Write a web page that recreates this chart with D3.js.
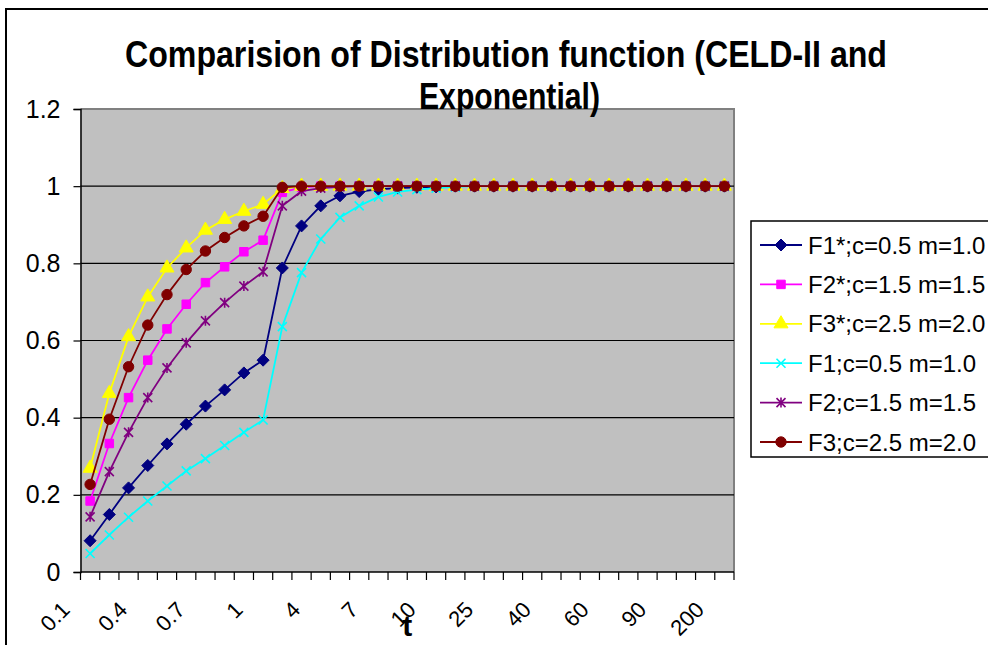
<!DOCTYPE html>
<html><head><meta charset="utf-8">
<script src="https://cdn.jsdelivr.net/npm/d3@7"></script>
<style>body{margin:0;background:#fff}svg{display:block;font-family:Arial,"Liberation Sans",sans-serif}</style>
</head><body>
<svg id="c" width="988" height="645"></svg>
<script>
const categories = ["0.1","0.2","0.3","0.4","0.5","0.6","0.7","0.8","0.9","1","2","3","4","5","6","7","8","9","10","15","20","25","30","35","40","45","50","60","70","80","90","100","150","200"];
const tickLabels = ["0.1","0.4","0.7","1","4","7","10","25","40","60","90","200"];
const yTicks = [0,0.2,0.4,0.6,0.8,1,1.2];
const seriesNames = ["F1*;c=0.5 m=1.0","F2*;c=1.5 m=1.5","F3*;c=2.5 m=2.0","F1;c=0.5 m=1.0","F2;c=1.5 m=1.5","F3;c=2.5 m=2.0"];
const F1star = [0.081,0.149,0.218,0.276,0.332,0.383,0.430,0.472,0.516,0.549,0.788,0.897,0.949,0.975,0.986,0.992,0.995,0.997,0.998,1,1,1,1,1,1,1,1,1,1,1,1,1,1,1];
const F2star = [0.184,0.333,0.452,0.549,0.630,0.694,0.750,0.791,0.830,0.860,0.984,0.997,1,1,1,1,1,1,1,1,1,1,1,1,1,1,1,1,1,1,1,1,1,1];
const F3star = [0.269,0.463,0.610,0.713,0.788,0.840,0.886,0.914,0.935,0.953,0.994,1,1,1,1,1,1,1,1,1,1,1,1,1,1,1,1,1,1,1,1,1,1,1];
const F1 = [0.048,0.096,0.142,0.184,0.223,0.262,0.294,0.328,0.362,0.394,0.636,0.776,0.863,0.919,0.949,0.972,0.985,0.991,0.995,0.998,1,1,1,1,1,1,1,1,1,1,1,1,1,1];
const F2 = [0.143,0.260,0.362,0.452,0.529,0.594,0.651,0.698,0.741,0.778,0.949,0.987,0.995,0.998,1,1,1,1,1,1,1,1,1,1,1,1,1,1,1,1,1,1,1,1];
const F3 = [0.227,0.396,0.532,0.640,0.719,0.784,0.832,0.867,0.897,0.922,0.997,1,1,1,1,1,1,1,1,1,1,1,1,1,1,1,1,1,1,1,1,1,1,1];
const seriesValues = [F1star,F2star,F3star,F1,F2,F3];
const colors = ["#000080","#FF00FF","#FFFF00","#00FFFF","#800080","#800000"];
const markers = ["diamond","square","triangle","x","star","circle"];

const svg = d3.select("#c");
const L=80.5, R=734, T=109, B=572;
const x = d3.scaleBand().domain(categories).range([L,R]);
const y = d3.scaleLinear().domain([0,1.2]).range([B,T]);

// outer chart border
svg.append("rect").attr("x",6).attr("y",9).attr("width",1100).attr("height",800)
  .attr("fill","#fff").attr("stroke","#000").attr("stroke-width",2);

// plot area
svg.append("rect").attr("x",L).attr("y",T).attr("width",R-L).attr("height",B-T).attr("fill","#C0C0C0");
svg.append("path").attr("d",`M${L},${T}H${R}V${B}`).attr("fill","none").attr("stroke","#808080").attr("stroke-width",2);

// gridlines
svg.append("g").selectAll("line").data(yTicks.filter(d=>d>0&&d<1.2)).join("line")
  .attr("x1",L).attr("x2",R).attr("y1",d=>y(d)).attr("y2",d=>y(d)).attr("stroke","#000").attr("stroke-width",1.2);

// y axis
const yAxis = svg.append("g").attr("transform",`translate(${L},0)`)
  .call(d3.axisLeft(y).tickValues(yTicks).tickSize(7).tickPadding(13).tickFormat(d=>String(d)));
yAxis.select(".domain").attr("stroke","#000").attr("stroke-width",1.5);
yAxis.selectAll(".tick line").attr("stroke","#000").attr("stroke-width",1.2);
yAxis.selectAll(".tick text").attr("font-size",25).attr("fill","#000").attr("font-family","Arial,'Liberation Sans',sans-serif");

// x axis
const xAxis = svg.append("g").attr("transform",`translate(0,${B})`)
  .call(d3.axisBottom(x).tickSize(0).tickFormat(""));
xAxis.select(".domain").remove();
xAxis.append("line").attr("x1",L).attr("x2",R).attr("stroke","#000").attr("stroke-width",1.5);
const bounds = d3.range(categories.length+1).map(i=> i<categories.length ? x(categories[i]) : x(categories[i-1])+x.bandwidth());
xAxis.selectAll(".bt").data(bounds).join("line").attr("class","bt")
  .attr("x1",d=>d).attr("x2",d=>d).attr("y1",0).attr("y2",8).attr("stroke","#000").attr("stroke-width",1.2);
xAxis.selectAll(".xl").data(tickLabels).join("text").attr("class","xl")
  .attr("transform",d=>`translate(${x(d)+x.bandwidth()/2-19},39) rotate(-45)`)
  .attr("text-anchor","end").attr("font-size",22).attr("fill","#000").text(d=>d);

// x title
svg.append("text").attr("x",(L+R)/2).attr("y",636).attr("text-anchor","middle")
  .attr("font-size",30).attr("font-weight","bold").text("t");

// title
svg.append("text").attr("x",506).attr("y",67).attr("text-anchor","middle")
  .attr("font-size",36).attr("font-weight","bold").attr("textLength",762).attr("lengthAdjust","spacingAndGlyphs")
  .text("Comparision of Distribution function (CELD-II and");
svg.append("text").attr("x",509.5).attr("y",109).attr("text-anchor","middle")
  .attr("font-size",36).attr("font-weight","bold").attr("textLength",181).attr("lengthAdjust","spacingAndGlyphs")
  .text("Exponential)");

function drawMarker(g, type, color){
  if(type==="diamond") g.append("path").attr("d","M0,-6L6,0L0,6L-6,0Z").attr("fill",color).attr("stroke",color).attr("stroke-width",1);
  else if(type==="square") g.append("path").attr("d",d3.symbol(d3.symbolSquare,72)()).attr("fill",color).attr("stroke",color);
  else if(type==="triangle") g.append("path").attr("d",d3.symbol(d3.symbolTriangle,85)()).attr("fill",color).attr("stroke",color);
  else if(type==="circle") g.append("path").attr("d",d3.symbol(d3.symbolCircle,85)()).attr("fill",color).attr("stroke",color);
  else if(type==="x") g.append("path").attr("d","M-4.5,-4.5L4.5,4.5M-4.5,4.5L4.5,-4.5").attr("stroke",color).attr("stroke-width",1.6).attr("fill","none");
  else if(type==="star") g.append("path").attr("d","M-4.5,-4.5L4.5,4.5M-4.5,4.5L4.5,-4.5M0,-5V5").attr("stroke",color).attr("stroke-width",1.6).attr("fill","none");
}

const line = d3.line().x((d,i)=>x(categories[i])+x.bandwidth()/2).y(d=>y(d));
seriesValues.forEach((vals,s)=>{
  const g = svg.append("g");
  g.append("path").datum(vals).attr("d",line).attr("fill","none").attr("stroke",colors[s]).attr("stroke-width",1.8);
  vals.forEach((v,i)=>{
    const m = g.append("g").attr("transform",`translate(${x(categories[i])+x.bandwidth()/2},${y(v)})`);
    drawMarker(m, markers[s], colors[s]);
  });
});

// legend
const lg = svg.append("g");
lg.append("rect").attr("x",751).attr("y",221).attr("width",300).attr("height",236).attr("fill","#fff").attr("stroke","#000").attr("stroke-width",1.5);
const rowY = d3.scaleLinear().domain([0,5]).range([245,442]);
seriesNames.forEach((n,s)=>{
  const yy = rowY(s);
  lg.append("line").attr("x1",760).attr("x2",802).attr("y1",yy).attr("y2",yy).attr("stroke",colors[s]).attr("stroke-width",1.8);
  const m = lg.append("g").attr("transform",`translate(781,${yy})`);
  drawMarker(m, markers[s], colors[s]);
  lg.append("text").attr("x",808).attr("y",yy+8.5).attr("font-size",24).attr("fill","#000").text(n);
});
</script>
</body></html>
